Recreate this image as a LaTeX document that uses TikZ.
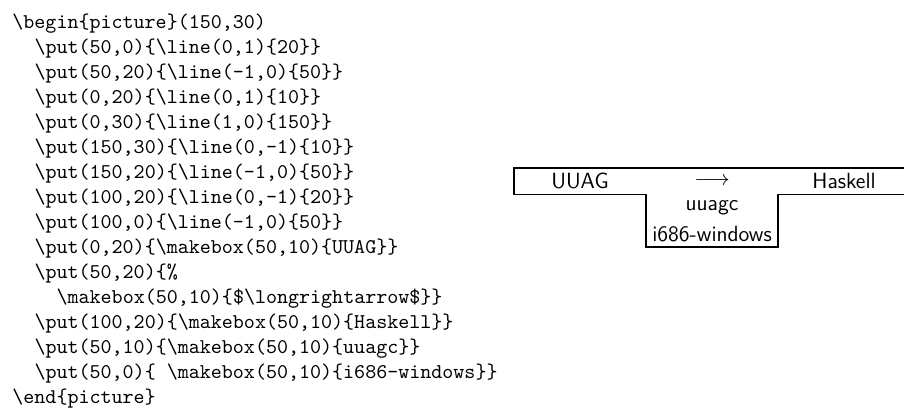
\documentclass[tikz,border=0pt]{standalone}
\usepackage{fontspec}
\newcommand\bsl{\textbackslash}
\begin{document}
\begin{tikzpicture}[x=0.5pt,y=0.5pt,
  codeline/.style={anchor=base west, inner sep=0pt, font=\fontsize{10.5}{12.5}\selectfont\ttfamily},
  boxtext/.style={inner sep=0pt, font=\fontsize{11}{13}\selectfont\sffamily},
  outline/.style={line width=0.7pt, line join=miter}]
\clip (0,0) rectangle (904,409);

% source listing of the picture environment
\node[codeline] (l1)  at (12,381)   {\bsl{}begin\{picture\}(150,30)};
\node[codeline] (l2)  at (34.1,356) {\bsl{}put(50,0)\{\bsl{}line(0,1)\{20\}\}};
\node[codeline] (l3)  at (34.1,331) {\bsl{}put(50,20)\{\bsl{}line(-1,0)\{50\}\}};
\node[codeline] (l4)  at (34.1,306) {\bsl{}put(0,20)\{\bsl{}line(0,1)\{10\}\}};
\node[codeline] (l5)  at (34.1,281) {\bsl{}put(0,30)\{\bsl{}line(1,0)\{150\}\}};
\node[codeline] (l6)  at (34.1,256) {\bsl{}put(150,30)\{\bsl{}line(0,-1)\{10\}\}};
\node[codeline] (l7)  at (34.1,231) {\bsl{}put(150,20)\{\bsl{}line(-1,0)\{50\}\}};
\node[codeline] (l8)  at (34.1,206) {\bsl{}put(100,20)\{\bsl{}line(0,-1)\{20\}\}};
\node[codeline] (l9)  at (34.1,181) {\bsl{}put(100,0)\{\bsl{}line(-1,0)\{50\}\}};
\node[codeline] (l10) at (34.1,156) {\bsl{}put(0,20)\{\bsl{}makebox(50,10)\{UUAG\}\}};
\node[codeline] (l11) at (34.1,131) {\bsl{}put(50,20)\{\%};
\node[codeline] (l12) at (56.2,106) {\bsl{}makebox(50,10)\{\$\bsl{}longrightarrow\$\}\}};
\node[codeline] (l13) at (34.1,81)  {\bsl{}put(100,20)\{\bsl{}makebox(50,10)\{Haskell\}\}};
\node[codeline] (l14) at (34.1,56)  {\bsl{}put(50,10)\{\bsl{}makebox(50,10)\{uuagc\}\}};
\node[codeline] (l15) at (34.1,31)  {\bsl{}put(50,0)\{ \bsl{}makebox(50,10)\{i686-windows\}\}};
\node[codeline] (l16) at (12,6)     {\bsl{}end\{picture\}};

% the T-diagram it draws, in its own unit length
\begin{scope}[shift={(514,162)}, x=1.32pt, y=1.32pt]
  \draw[outline] (50,0) -- (50,20) -- (0,20) -- (0,30) -- (150,30)
                 -- (150,20) -- (100,20) -- (100,0) -- cycle;
  \node[boxtext] (src)      at (25,25)  {UUAG};
  \node[boxtext] (arrow)    at (75,25)  {$\longrightarrow$};
  \node[boxtext] (tgt)      at (125,25) {Haskell};
  \node[boxtext] (tool)     at (75,15)  {uuagc};
  \node[boxtext] (platform) at (75,5)   {i686-windows};
\end{scope}
\end{tikzpicture}
\end{document}
